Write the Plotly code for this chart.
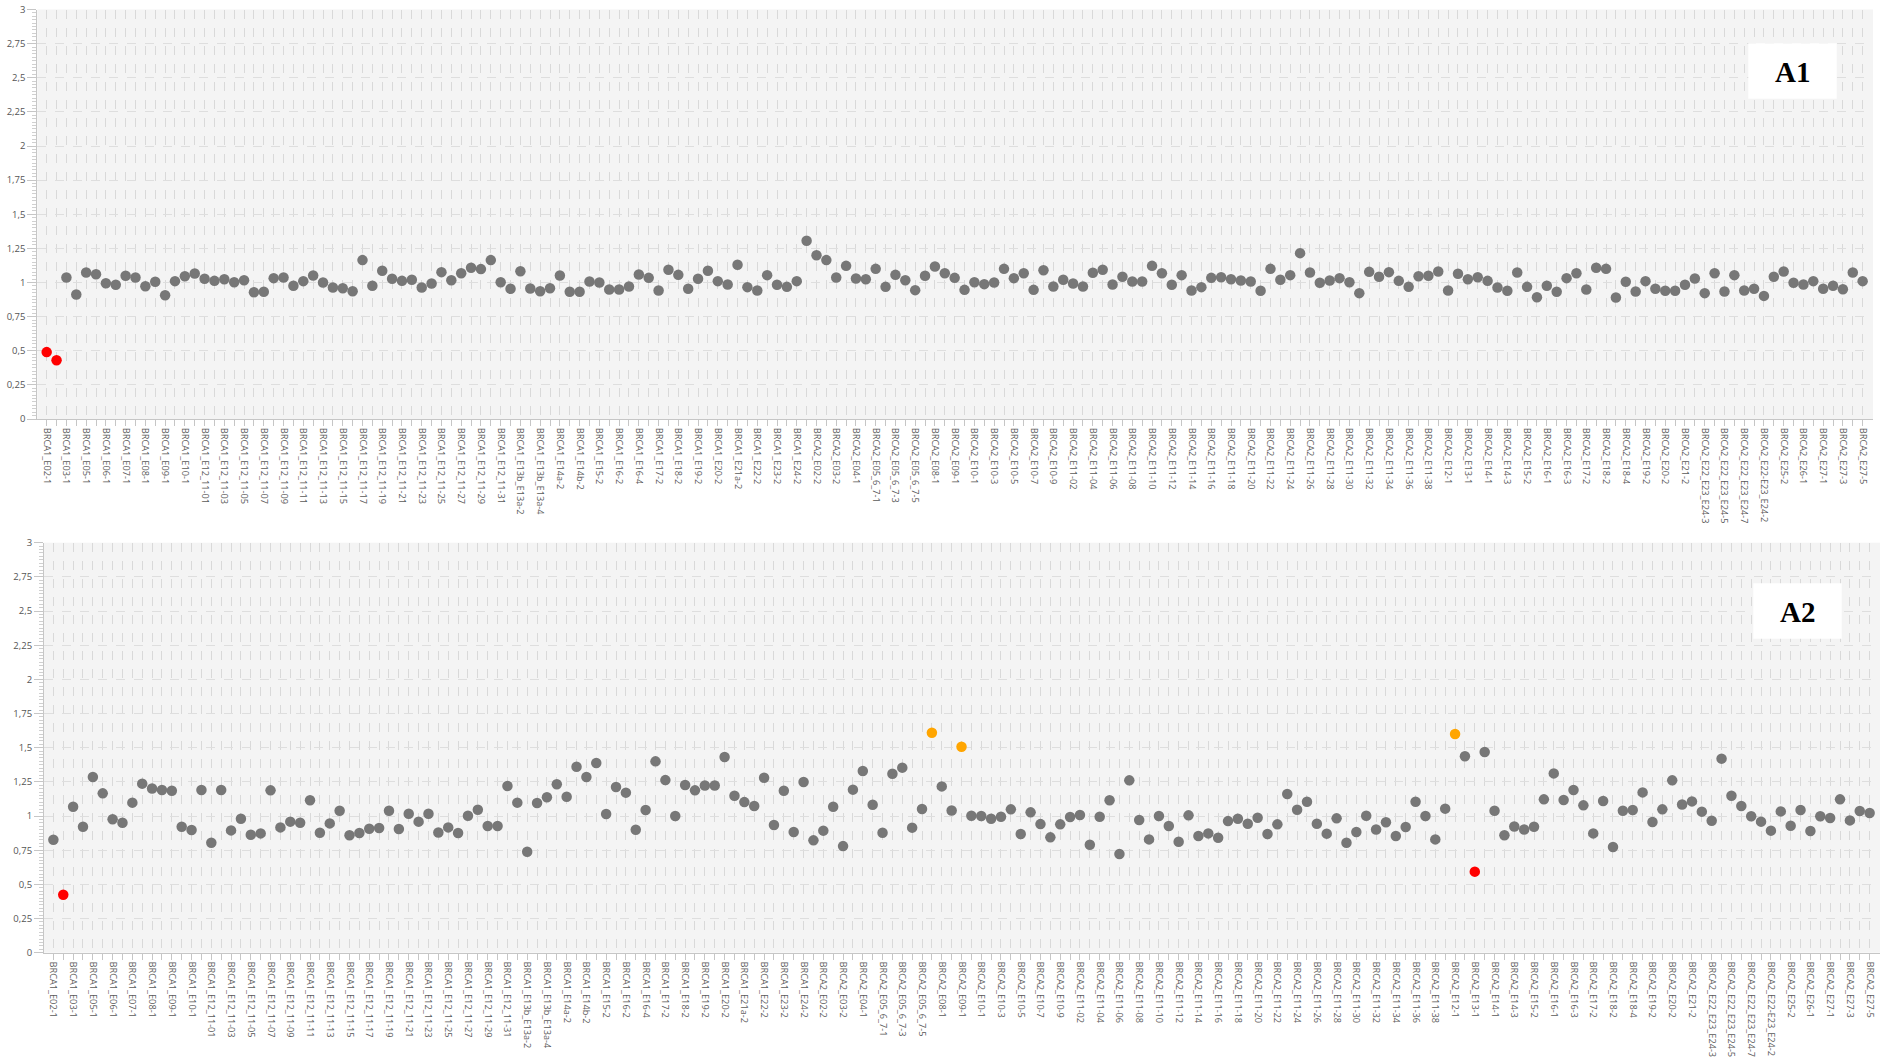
import plotly.graph_objects as go

# ---------------- data ----------------
categories = (
    ["BRCA1_E02-1", "BRCA1_E02-2", "BRCA1_E03-1", "BRCA1_E03-2", "BRCA1_E05-1", "BRCA1_E05-2",
     "BRCA1_E06-1", "BRCA1_E06-2", "BRCA1_E07-1", "BRCA1_E07-2", "BRCA1_E08-1", "BRCA1_E08-2",
     "BRCA1_E09-1", "BRCA1_E09-2", "BRCA1_E10-1", "BRCA1_E10-2"]
    + [f"BRCA1_E12_11-{i:02d}" for i in range(1, 32)]
    + ["BRCA1_E13b_E13a-1", "BRCA1_E13b_E13a-2", "BRCA1_E13b_E13a-3", "BRCA1_E13b_E13a-4",
       "BRCA1_E14a-1", "BRCA1_E14a-2", "BRCA1_E14b-1", "BRCA1_E14b-2", "BRCA1_E15-1", "BRCA1_E15-2",
       "BRCA1_E16-1", "BRCA1_E16-2", "BRCA1_E16-3", "BRCA1_E16-4", "BRCA1_E17-1", "BRCA1_E17-2",
       "BRCA1_E18-1", "BRCA1_E18-2", "BRCA1_E19-1", "BRCA1_E19-2", "BRCA1_E20-1", "BRCA1_E20-2",
       "BRCA1_E21a-1", "BRCA1_E21a-2", "BRCA1_E22-1", "BRCA1_E22-2", "BRCA1_E23-1", "BRCA1_E23-2",
       "BRCA1_E24-1", "BRCA1_E24-2",
       "BRCA2_E02-1", "BRCA2_E02-2", "BRCA2_E03-1", "BRCA2_E03-2", "BRCA2_E03-3", "BRCA2_E04-1",
       "BRCA2_E04-2", "BRCA2_E05_6_7-1", "BRCA2_E05_6_7-2", "BRCA2_E05_6_7-3", "BRCA2_E05_6_7-4",
       "BRCA2_E05_6_7-5", "BRCA2_E05_6_7-6", "BRCA2_E08-1", "BRCA2_E08-2", "BRCA2_E09-1", "BRCA2_E09-2"]
    + [f"BRCA2_E10-{i}" for i in range(1, 10)]
    + [f"BRCA2_E11-{i:02d}" for i in range(1, 40)]
    + ["BRCA2_E12-1", "BRCA2_E12-2", "BRCA2_E13-1", "BRCA2_E13-2", "BRCA2_E14-1", "BRCA2_E14-2",
       "BRCA2_E14-3", "BRCA2_E15-1", "BRCA2_E15-2", "BRCA2_E15-3", "BRCA2_E16-1", "BRCA2_E16-2",
       "BRCA2_E16-3", "BRCA2_E17-1", "BRCA2_E17-2", "BRCA2_E18-1", "BRCA2_E18-2", "BRCA2_E18-3",
       "BRCA2_E18-4", "BRCA2_E19-1", "BRCA2_E19-2", "BRCA2_E20-1", "BRCA2_E20-2", "BRCA2_E21-1",
       "BRCA2_E21-2", "BRCA2_E22_E23_E24-2", "BRCA2_E22_E23_E24-3", "BRCA2_E22_E23_E24-4",
       "BRCA2_E22_E23_E24-5", "BRCA2_E22_E23_E24-6", "BRCA2_E22_E23_E24-7", "BRCA2_E22_E23_E24-8",
       "BRCA2_E22-E23_E24-2", "BRCA2_E25-1", "BRCA2_E25-2", "BRCA2_E25-3", "BRCA2_E26-1",
       "BRCA2_E26-2", "BRCA2_E27-1", "BRCA2_E27-2", "BRCA2_E27-3", "BRCA2_E27-4", "BRCA2_E27-5"]
)

# every other amplicon is labelled on the axis
tick_labels = [c if i % 2 == 0 else "" for i, c in enumerate(categories)]

a1_values = [
    0.49, 0.43, 1.037, 0.912, 1.073, 1.061, 0.995, 0.983, 1.049, 1.037,
    0.973, 1.005, 0.907, 1.010, 1.046, 1.066, 1.027, 1.012, 1.024, 1.002,
    1.017, 0.929, 0.932, 1.032, 1.037, 0.976, 1.010, 1.051, 1.000, 0.963,
    0.958, 0.936, 1.164, 0.976, 1.086, 1.027, 1.012, 1.020, 0.963, 0.993,
    1.076, 1.017, 1.068, 1.108, 1.098, 1.164, 1.002, 0.954, 1.083, 0.956,
    0.936, 0.958, 1.051, 0.932, 0.932, 1.007, 1.000, 0.949, 0.949, 0.971,
    1.059, 1.034, 0.941, 1.093, 1.056, 0.954, 1.027, 1.086, 1.010, 0.985,
    1.130, 0.966, 0.941, 1.054, 0.983, 0.968, 1.010, 1.306, 1.200, 1.164,
    1.037, 1.122, 1.029, 1.024, 1.100, 0.968, 1.056, 1.017, 0.944, 1.049,
    1.117, 1.068, 1.034, 0.946, 1.002, 0.988, 1.000, 1.100, 1.032, 1.068,
    0.946, 1.090, 0.971, 1.020, 0.993, 0.971, 1.071, 1.093, 0.985, 1.042,
    1.007, 1.007, 1.122, 1.068, 0.983, 1.054, 0.941, 0.966, 1.034, 1.039,
    1.024, 1.015, 1.007, 0.939, 1.100, 1.020, 1.054, 1.215, 1.073, 0.998,
    1.015, 1.032, 1.002, 0.922, 1.078, 1.042, 1.076, 1.012, 0.968, 1.046,
    1.049, 1.081, 0.941, 1.064, 1.024, 1.039, 1.012, 0.963, 0.939, 1.073,
    0.968, 0.892, 0.976, 0.932, 1.032, 1.068, 0.949, 1.108, 1.100, 0.890,
    1.005, 0.934, 1.010, 0.954, 0.939, 0.939, 0.983, 1.029, 0.922, 1.068,
    0.934, 1.054, 0.941, 0.954, 0.902, 1.042, 1.081, 0.998, 0.985, 1.010,
    0.954, 0.976, 0.951, 1.073, 1.010,
]

a2_values = [
    0.827, 0.424, 1.068, 0.922, 1.285, 1.166, 0.976, 0.951, 1.098, 1.237,
    1.202, 1.190, 1.185, 0.922, 0.898, 1.190, 0.805, 1.190, 0.895, 0.980,
    0.863, 0.873, 1.188, 0.917, 0.959, 0.951, 1.115, 0.878, 0.946, 1.039,
    0.859, 0.876, 0.907, 0.912, 1.039, 0.905, 1.017, 0.959, 1.017, 0.880,
    0.917, 0.876, 1.002, 1.046, 0.927, 0.927, 1.220, 1.098, 0.739, 1.095,
    1.137, 1.232, 1.141, 1.361, 1.285, 1.388, 1.015, 1.212, 1.171, 0.900,
    1.044, 1.400, 1.263, 1.000, 1.227, 1.188, 1.224, 1.224, 1.432, 1.149,
    1.102, 1.073, 1.280, 0.934, 1.185, 0.883, 1.249, 0.822, 0.893, 1.068,
    0.780, 1.193, 1.329, 1.083, 0.878, 1.310, 1.354, 0.915, 1.051, 1.610,
    1.217, 1.041, 1.507, 1.002, 1.000, 0.980, 0.995, 1.049, 0.868, 1.027,
    0.941, 0.844, 0.939, 0.993, 1.007, 0.790, 0.995, 1.115, 0.722, 1.261,
    0.971, 0.829, 1.000, 0.927, 0.812, 1.005, 0.854, 0.873, 0.841, 0.963,
    0.980, 0.944, 0.988, 0.868, 0.939, 1.161, 1.046, 1.105, 0.944, 0.871,
    0.983, 0.805, 0.883, 1.002, 0.902, 0.954, 0.854, 0.920, 1.105, 1.000,
    0.829, 1.054, 1.600, 1.437, 0.593, 1.468, 1.039, 0.859, 0.924, 0.902,
    0.922, 1.122, 1.312, 1.117, 1.190, 1.078, 0.873, 1.110, 0.773, 1.039,
    1.044, 1.173, 0.956, 1.049, 1.261, 1.085, 1.107, 1.032, 0.966, 1.420,
    1.149, 1.073, 0.998, 0.959, 0.893, 1.034, 0.929, 1.044, 0.890, 0.998,
    0.985, 1.122, 0.968, 1.037, 1.022,
]

y_tick_values = [0, 0.25, 0.5, 0.75, 1, 1.25, 1.5, 1.75, 2, 2.25, 2.5, 2.75, 3]
y_tick_labels = ["0", "0,25", "0,5", "0,75", "1", "1,25", "1,5", "1,75", "2", "2,25", "2,5", "2,75", "3"]

panel_names = ["A1", "A2"]
DEL_CUTOFF = 0.65   # ratio below -> deletion (red)
DUP_CUTOFF = 1.49   # ratio above -> duplication (orange)

# ---------------- figure ----------------
W, H = 1887, 1064
GRAY, RED, ORANGE = "#777777", "#ff0000", "#ffa500"

fig = go.Figure()

panels = [(a1_values, "x", "y"), (a2_values, "x2", "y2")]
for vals, xa, ya in panels:
    groups = {
        GRAY: [i for i, v in enumerate(vals) if DEL_CUTOFF <= v <= DUP_CUTOFF],
        RED: [i for i, v in enumerate(vals) if v < DEL_CUTOFF],
        ORANGE: [i for i, v in enumerate(vals) if v > DUP_CUTOFF],
    }
    for col, idx in groups.items():
        if not idx:
            continue
        fig.add_trace(go.Scatter(
            x=[categories[i] for i in idx],
            y=[vals[i] for i in idx],
            mode="markers",
            marker=dict(size=10.5, color=col, line=dict(width=0)),
            xaxis=xa, yaxis=ya, showlegend=False,
            hovertemplate="%{x}: %{y}<extra></extra>",
        ))


def px_x(p):
    return min(1.0, max(0.0, p / W))


def px_y(p):
    return min(1.0, max(0.0, 1 - p / H))


common_x = dict(
    type="category",
    categoryorder="array", categoryarray=categories,
    range=[-0.95, len(categories) - 1 + 1.05],
    tickmode="array", tickvals=categories, ticktext=tick_labels,
    tickangle=90,
    tickfont=dict(family="Open Sans, Arial, sans-serif", size=9.2, color="#5a5a5a"),
    showgrid=True, gridcolor="#d9d9d9", gridwidth=1, griddash="dash",
    ticks="outside", ticklen=6, tickcolor="#c6c6c6",
    showline=True, linecolor="#c6c6c6", linewidth=1,
    zeroline=False, automargin=False, fixedrange=True,
)
common_y = dict(
    range=[0, 3],
    tickmode="array", tickvals=y_tick_values, ticktext=y_tick_labels,
    tickfont=dict(family="Open Sans, Arial, sans-serif", size=9.5, color="#555555"),
    showgrid=True, gridcolor="#dedede", gridwidth=1, griddash="dash",
    ticks="outside", ticklen=9, tickcolor="#c6c6c6",
    minor=dict(dtick=0.025, tick0=0, ticks="outside", ticklen=4, tickcolor="#d0d0d0", showgrid=False),
    showline=True, linecolor="#c6c6c6", linewidth=1,
    zeroline=False, automargin=False, fixedrange=True,
)

fig.update_layout(
    width=W, height=H,
    margin=dict(l=0, r=0, t=0, b=0),
    paper_bgcolor="white",
    plot_bgcolor="#f4f4f4",
    showlegend=False,
    xaxis=dict(common_x, domain=[px_x(37.3), px_x(1873)], anchor="y"),
    yaxis=dict(common_y, domain=[px_y(419), px_y(9.5)], anchor="x"),
    xaxis2=dict(common_x, domain=[px_x(44), px_x(1880)], anchor="y2"),
    yaxis2=dict(common_y, domain=[px_y(952.7), px_y(542.7)], anchor="x2"),
)

boxes = [
    (panel_names[0], 1748.3, 1836.7, 43.3, 98.7),
    (panel_names[1], 1753.3, 1841.7, 583.3, 638.7),
]
for name, x0, x1, y0, y1 in boxes:
    fig.add_shape(type="rect", xref="paper", yref="paper",
                  x0=px_x(x0), x1=px_x(x1), y0=px_y(y1), y1=px_y(y0),
                  fillcolor="white", line=dict(width=0), layer="above")
    fig.add_annotation(xref="paper", yref="paper",
                       x=px_x((x0 + x1) / 2), y=px_y((y0 + y1) / 2 + 1),
                       text=f"<b>{name}</b>", showarrow=False,
                       font=dict(family="Liberation Serif, Times New Roman, serif", size=29, color="#000000"),
                       xanchor="center", yanchor="middle")

# place the figure flush with the page corner (no default body margin), no mode bar
fig.write_html("out.html", config={"displayModeBar": False},
               post_script="document.body.style.margin='0px';")
